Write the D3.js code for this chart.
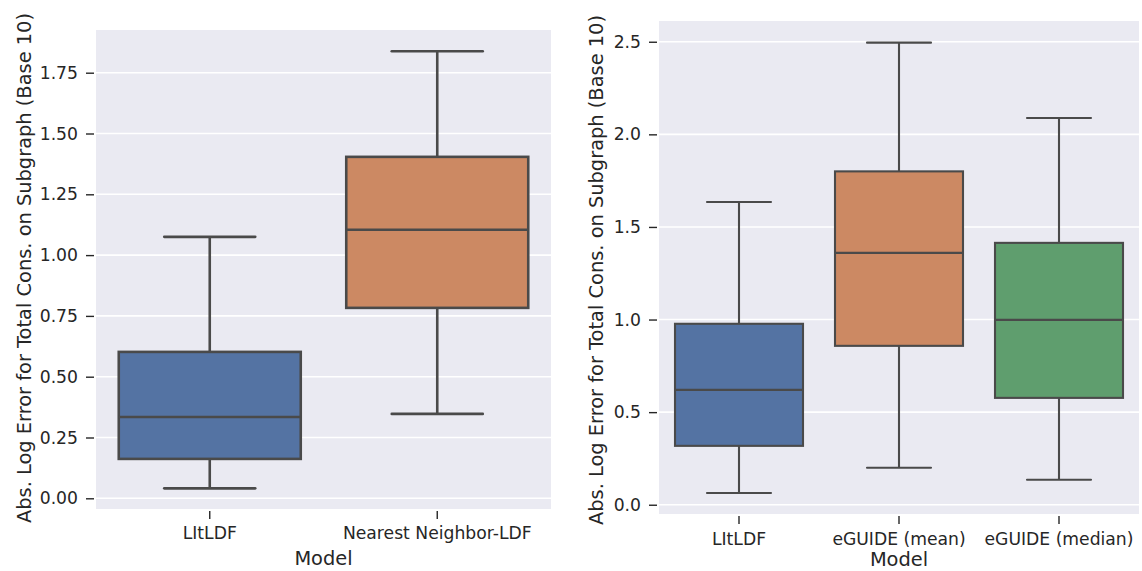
<!DOCTYPE html>
<meta charset="utf-8">
<style>
    body { margin: 0; background: #fff; }
    text {
        font-family: "DejaVu Sans", sans-serif;
        fill: #262626;
    }
    .tick text { font-size: 17.2px; }
    .axis path { display: none; }
    .axis .tick line { stroke: #262626; stroke-width: 1.4px; }
    .grid line { stroke: #fff; stroke-width: 1.6px; }
    .box rect, .box line { stroke: #4a4a4a; }
    .title { font-size: 19.4px; }
</style>
<body>
<svg width="1142" height="571"></svg>
</body>
<script src="https://d3js.org/d3.v7.min.js"></script>
<script>

    // left panel data
    var leftModels = ["LItLDF", "Nearest Neighbor-LDF"];
    var leftLow    = [0.041, 0.347];
    var leftQ1     = [0.162, 0.783];
    var leftMedian = [0.334, 1.104];
    var leftQ3     = [0.602, 1.404];
    var leftHigh   = [1.075, 1.838];
    var leftTicks  = [0, 0.25, 0.5, 0.75, 1.0, 1.25, 1.5, 1.75];

    // right panel data
    var rightModels = ["LItLDF", "eGUIDE (mean)", "eGUIDE (median)"];
    var rightLow    = [0.063, 0.200, 0.135];
    var rightQ1     = [0.318, 0.858, 0.577];
    var rightMedian = [0.620, 1.360, 0.998];
    var rightQ3     = [0.977, 1.800, 1.414];
    var rightHigh   = [1.635, 2.495, 2.088];
    var rightTicks  = [0, 0.5, 1.0, 1.5, 2.0, 2.5];

    var colors = ["#5473a3", "#cc8963", "#5f9e6e"];
    var yTitle = "Abs. Log Error for Total Cons. on Subgraph (Base 10)";

    var svg = d3.select("svg");

    function panel(opt) {
        var g = svg.append("g");
        var x = d3.scaleBand().domain(opt.models).range([opt.left, opt.right]);
        var y = d3.scaleLinear().domain(opt.yDomain).range([opt.bottom, opt.top]);

        // background
        g.append("rect")
                .attr("x", opt.left).attr("y", opt.top)
                .attr("width", opt.right - opt.left)
                .attr("height", opt.bottom - opt.top)
                .attr("fill", "#eaeaf2");

        // grid
        g.append("g").attr("class", "grid")
                .selectAll("line").data(opt.ticks).enter().append("line")
                .attr("x1", opt.left).attr("x2", opt.right)
                .attr("y1", function (d) { return y(d); })
                .attr("y2", function (d) { return y(d); });

        // axes
        g.append("g").attr("class", "axis")
                .attr("transform", "translate(" + (opt.left - 2) + ",0)")
                .call(d3.axisLeft(y).tickValues(opt.ticks).tickFormat(d3.format(opt.fmt))
                        .tickSize(8).tickPadding(opt.yPad));
        g.append("g").attr("class", "axis")
                .attr("transform", "translate(0," + (opt.bottom + 2) + ")")
                .call(d3.axisBottom(x).tickSize(8).tickPadding(opt.xPad));

        // boxes
        var bw = x.bandwidth() * 0.8;
        var box = g.selectAll(".box").data(opt.models).enter().append("g")
                .attr("class", "box")
                .attr("transform", function (d) { return "translate(" + (x(d) + x.bandwidth() / 2) + ",0)"; });

        box.append("line")
                .attr("y1", function (d, i) { return y(opt.low[i]); })
                .attr("y2", function (d, i) { return y(opt.q1[i]); });
        box.append("line")
                .attr("y1", function (d, i) { return y(opt.q3[i]); })
                .attr("y2", function (d, i) { return y(opt.high[i]); });
        box.append("line")
                .attr("x1", -bw / 4).attr("x2", bw / 4)
                .attr("y1", function (d, i) { return y(opt.low[i]); })
                .attr("y2", function (d, i) { return y(opt.low[i]); })
                .style("stroke-linecap", "round");
        box.append("line")
                .attr("x1", -bw / 4).attr("x2", bw / 4)
                .attr("y1", function (d, i) { return y(opt.high[i]); })
                .attr("y2", function (d, i) { return y(opt.high[i]); })
                .style("stroke-linecap", "round");
        box.append("rect")
                .attr("x", -bw / 2).attr("width", bw)
                .attr("y", function (d, i) { return y(opt.q3[i]); })
                .attr("height", function (d, i) { return y(opt.q1[i]) - y(opt.q3[i]); })
                .attr("fill", function (d, i) { return colors[i]; });
        box.append("line")
                .attr("x1", -bw / 2).attr("x2", bw / 2)
                .attr("y1", function (d, i) { return y(opt.median[i]); })
                .attr("y2", function (d, i) { return y(opt.median[i]); });
        box.selectAll("rect, line").style("stroke-width", opt.lw + "px");

        // titles
        g.append("text")
                .attr("class", "title")
                .attr("x", (opt.left + opt.right) / 2)
                .attr("y", opt.xTitleY)
                .style("text-anchor", "middle")
                .text("Model");
        g.append("text")
                .attr("class", "title")
                .attr("transform", "translate(" + opt.yTitleX + "," + opt.yTitleMid + ") rotate(-90)")
                .attr("dy", "0.35em")
                .style("text-anchor", "middle")
                .text(yTitle);
    }

    panel({
        models: leftModels, low: leftLow, q1: leftQ1, median: leftMedian, q3: leftQ3, high: leftHigh,
        ticks: leftTicks, fmt: ".2f", yDomain: [-0.044, 1.9256],
        left: 96, right: 551, top: 30, bottom: 509, xTitleY: 565, yTitleX: 24, yTitleMid: 268,
        yPad: 8, xPad: 8, lw: 2.6
    });

    panel({
        models: rightModels, low: rightLow, q1: rightQ1, median: rightMedian, q3: rightQ3, high: rightHigh,
        ticks: rightTicks, fmt: ".1f", yDomain: [-0.05, 2.612],
        left: 659, right: 1139, top: 21, bottom: 514, xTitleY: 566, yTitleX: 596, yTitleMid: 270,
        yPad: 8, xPad: 9, lw: 2.1
    });

</script>
